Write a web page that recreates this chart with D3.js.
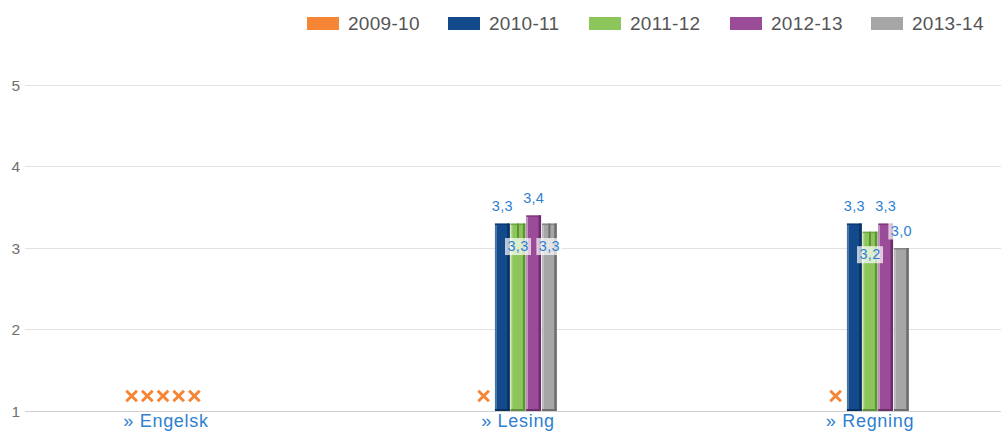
<!DOCTYPE html>
<html>
<head>
<meta charset="utf-8">
<script src="https://cdn.jsdelivr.net/npm/d3@7"></script>
<style>
  body { margin: 0; background: #fff; }
  text { font-family: "Liberation Sans", Arial, sans-serif; }
</style>
</head>
<body>
<div id="chart"></div>
<script>
// categories and series
var categories = ["Engelsk", "Lesing", "Regning"];
var series = ["2009-10", "2010-11", "2011-12", "2012-13", "2013-14"];
var colors = ["#f68535", "#134a8b", "#8cc65a", "#9a4c98", "#a6a6a6"];
var darks = ["#b95e1d", "#0b3163", "#5f913a", "#6c2e6a", "#6e6e6e"];

// values per category, null = no data
var engelsk = [null, null, null, null, null];
var lesing = [null, 3.3, 3.3, 3.4, 3.3];
var regning = [null, 3.3, 3.2, 3.3, 3.0];
var values = [engelsk, lesing, regning];

var yTicks = [1, 2, 3, 4, 5];

var width = 1001, height = 431;

var svg = d3.select("#chart").append("svg")
    .attr("width", width)
    .attr("height", height);

var x = d3.scalePoint().domain(categories).range([166, 870]);
var xs = d3.scaleBand().domain(series).range([-38.75, 38.75]).paddingInner(0.06);
var y = d3.scaleLinear().domain([1, 5]).range([411, 85]);

// gridlines
svg.append("g").selectAll("line")
    .data(yTicks)
    .enter().append("line")
      .attr("x1", 25)
      .attr("x2", width)
      .attr("y1", d => y(d))
      .attr("y2", d => y(d))
      .attr("stroke", d => d == 1 ? "#d0d0d0" : "#e2e2e2")
      .attr("stroke-width", 1)
      .attr("shape-rendering", "crispEdges");

svg.append("g").selectAll("text")
    .data(yTicks)
    .enter().append("text")
      .attr("x", 20)
      .attr("y", d => y(d))
      .attr("dy", "0.36em")
      .attr("text-anchor", "end")
      .attr("font-size", 15.5)
      .attr("fill", "#707070")
      .text(d => d);

// category labels
svg.append("g").selectAll("text")
    .data(categories)
    .enter().append("text")
      .attr("x", d => x(d))
      .attr("y", 427)
      .attr("text-anchor", "middle")
      .attr("font-size", 18)
      .attr("letter-spacing", 0.7)
      .attr("fill", "#2f7fcf")
      .text(d => "\u00bb " + d);

// flatten
var items = [];
categories.forEach(function(c, ci) {
  series.forEach(function(s, si) {
    items.push({cat: c, ser: s, si: si, v: values[ci][si], cx: x(c) + xs(s) + xs.bandwidth() / 2});
  });
});

var bw = xs.bandwidth();
var bars = svg.append("g");
items.filter(d => d.v != null).forEach(function(d) {
  var g = bars.append("g");
  var x0 = d.cx - bw / 2, top = y(d.v), h = y(1) - top;
  g.append("rect")
    .attr("x", x0).attr("y", top).attr("width", bw).attr("height", h)
    .attr("fill", colors[d.si]);
  // right shade
  g.append("rect")
    .attr("x", x0 + bw - 2.5).attr("y", top).attr("width", 2.5).attr("height", h)
    .attr("fill", darks[d.si]);
  // bottom shade
  g.append("rect")
    .attr("x", x0).attr("y", y(1) - 2).attr("width", bw).attr("height", 2)
    .attr("fill", darks[d.si]);
  // top shade
  g.append("rect")
    .attr("x", x0).attr("y", top).attr("width", bw).attr("height", 1.5)
    .attr("fill", darks[d.si]).attr("opacity", 0.6);
  // left highlight
  g.append("rect")
    .attr("x", x0 + 0.5).attr("y", top + 1.5).attr("width", 1.2).attr("height", h - 3.5)
    .attr("fill", "#fff").attr("opacity", 0.4);
});

// missing value markers
svg.append("g").selectAll("path")
    .data(items.filter(d => d.v == null))
    .enter().append("path")
      .attr("d", function(d) {
        var cx = d.cx - 3, cy = 396, r = 5.3;
        return "M" + (cx - r) + "," + (cy - r) + "L" + (cx + r) + "," + (cy + r) +
               "M" + (cx - r) + "," + (cy + r) + "L" + (cx + r) + "," + (cy - r);
      })
      .attr("stroke", colors[0])
      .attr("stroke-width", 3)
      .attr("fill", "none");

// data labels with simple collision avoidance
var labels = svg.append("g");
var placed = [];
function hits(b) {
  return placed.some(p => b.x0 < p.x1 && b.x1 > p.x0 && b.y0 < p.y1 && b.y1 > p.y0);
}
items.filter(d => d.v != null).forEach(function(d) {
  var top = y(d.v);
  var txt = d3.format(".1f")(d.v).replace(".", ",");
  var base = top - 12.5;
  var w = 26, hgt = 17;
  var box = {x0: d.cx - w / 2, x1: d.cx + w / 2, y0: base - 13, y1: base + 4};
  var moved = false;
  if (hits(box)) {
    base = top + 27.5;
    box = {x0: d.cx - w / 2, x1: d.cx + w / 2, y0: base - 13, y1: base + 4};
    moved = true;
  }
  placed.push(box);
  if (moved) {
    labels.append("line")
      .attr("x1", d.cx).attr("x2", d.cx)
      .attr("y1", top).attr("y2", box.y0)
      .attr("stroke", darks[d.si]).attr("stroke-width", 2);
  }
  labels.append("rect")
    .attr("x", box.x0).attr("y", box.y0).attr("width", w).attr("height", hgt)
    .attr("fill", "#fff").attr("opacity", 0.7);
  labels.append("text")
    .attr("x", d.cx)
    .attr("y", base)
    .attr("text-anchor", "middle")
    .attr("font-size", 14.5)
    .attr("letter-spacing", 0.3)
    .attr("fill", "#2f7fcf")
    .text(txt);
});

// legend
var lx = d3.scalePoint().domain(series).range([307, 871]);
var legend = svg.append("g");
series.forEach(function(s, i) {
  legend.append("rect")
    .attr("x", lx(s)).attr("y", 17).attr("width", 32).attr("height", 13)
    .attr("fill", colors[i]);
  legend.append("text")
    .attr("x", lx(s) + 41)
    .attr("y", 30)
    .attr("font-size", 19)
    .attr("letter-spacing", 0.3)
    .attr("fill", "#555")
    .text(s);
});
</script>
</body>
</html>
